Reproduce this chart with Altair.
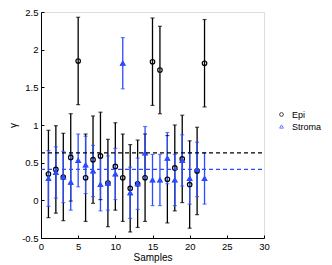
import altair as alt
import pandas as pd

# ---- data ----
samples = list(range(1, 23))
epi_mean = [0.35, 0.41, 0.31, 0.57, 1.85, 0.30, 0.54, 0.59, 0.23, 0.45, 0.30,
            0.16, 0.22, 0.30, 1.84, 1.73, 0.28, 0.43, 0.55, 0.21, 0.39, 1.82]
epi_err = [0.58, 0.58, 0.58, 0.58, 0.58, 0.58, 0.58, 0.58, 0.58, 0.58, 0.58,
           0.58, 0.58, 0.58, 0.58, 0.58, 0.58, 0.57, 0.58, 0.58, 0.58, 0.58]
stroma_mean = [0.29, 0.37, 0.31, 0.24, 0.53, 0.47, 0.39, 0.21, 0.23, 0.35, 1.82,
               0.10, 0.22, 0.63, 0.27, 0.27, 0.56, 0.27, 0.53, 0.29, 0.41, 0.29]
stroma_err = [0.37, 0.34, 0.34, 0.37, 0.35, 0.38, 0.34, 0.35, 0.36, 0.34, 0.34,
              0.34, 0.34, 0.35, 0.34, 0.34, 0.34, 0.34, 0.34, 0.34, 0.36, 0.34]
series_names = ["Epi", "Stroma"]
ref_levels = [0.63, 0.41]
x_ticks = [0, 5, 10, 15, 20, 25, 30]
y_ticks = [-0.5, 0, 0.5, 1, 1.5, 2, 2.5]

BLACK = "#000000"
BLUE = "#2a4bff"
FONT = "Liberation Sans"
W, H = 223, 226

rows = []
for s, m, e in zip(samples, epi_mean, epi_err):
    rows.append({"sample": s, "gamma": m, "err": e, "series": "Epi"})
for s, m, e in zip(samples, stroma_mean, stroma_err):
    rows.append({"sample": s, "gamma": m, "err": e, "series": "Stroma"})
df = pd.DataFrame(rows)
ref = pd.DataFrame({"series": series_names, "gamma": ref_levels})

xs = alt.Scale(domain=[0, 30], nice=False, zero=False)
ys = alt.Scale(domain=[-0.5, 2.5], nice=False, zero=False)
cs = alt.Scale(domain=series_names, range=[BLACK, BLUE])
ss = alt.Scale(domain=series_names, range=["circle", "triangle-up"])

x_axis = alt.Axis(values=x_ticks, ticks=False, grid=False, labelFlush=False,
                  labelPadding=3, title="Samples", titlePadding=2,
                  domainColor=BLACK, labelColor=BLACK, titleColor=BLACK,
                  labelFont=FONT, titleFont=FONT, labelFontSize=9.5,
                  titleFontSize=10, titleFontWeight="normal")
y_axis = alt.Axis(values=y_ticks, ticks=False, grid=False, labelFlush=False,
                  labelExpr="'' + datum.value", labelPadding=3,
                  title="γ", titlePadding=3,
                  domainColor=BLACK, labelColor=BLACK, titleColor=BLACK,
                  labelFont=FONT, titleFont=FONT, labelFontSize=9.5,
                  titleFontSize=10, titleFontWeight="normal")

legend = alt.Legend(title=None, orient="none", legendX=236, legendY=98,
                    symbolSize=14, symbolStrokeWidth=1, labelFont=FONT,
                    labelFontSize=9, labelColor=BLACK, labelOffset=6,
                    rowPadding=2, padding=0, symbolFillColor="transparent",
                    symbolOpacity=0.75)

X = alt.X("sample:Q", scale=xs, axis=x_axis)
color_nl = alt.Color("series:N", scale=cs, legend=None)

base = alt.Chart(df).transform_calculate(
    lo="datum.gamma - datum.err", hi="datum.gamma + datum.err"
)

bars = base.mark_rule(strokeWidth=1.3).encode(
    x=X, y=alt.Y("lo:Q", scale=ys, axis=y_axis), y2="hi:Q", color=color_nl)
cap_lo = base.mark_tick(orient="horizontal", size=4, thickness=1.2).encode(
    x=X, y=alt.Y("lo:Q", scale=ys, axis=y_axis), color=color_nl)
cap_hi = base.mark_tick(orient="horizontal", size=4, thickness=1.2).encode(
    x=X, y=alt.Y("hi:Q", scale=ys, axis=y_axis), color=color_nl)

refs = alt.Chart(ref).mark_rule(strokeDash=[4, 3], strokeWidth=1.2).encode(
    y=alt.Y("gamma:Q", scale=ys, axis=y_axis),
    x=alt.value(0), x2=alt.value(W), color=color_nl)

pts = base.mark_point(filled=False, strokeWidth=1.2, size=20, opacity=1).encode(
    x=X, y=alt.Y("gamma:Q", scale=ys, axis=y_axis),
    color=alt.Color("series:N", scale=cs, legend=legend),
    shape=alt.Shape("series:N", scale=ss, legend=legend))
tri = base.transform_filter("datum.series == 'Stroma'").mark_point(
    filled=True, shape="triangle-up", size=30, color=BLUE, opacity=1).encode(
    x=X, y=alt.Y("gamma:Q", scale=ys, axis=y_axis))

main = alt.layer(bars, cap_lo, cap_hi, pts, tri, refs).resolve_legend(
    color="independent", shape="independent")

tick_x_axis = alt.Axis(orient="top", offset=-H, values=x_ticks, labels=False,
                       domain=False, grid=False, ticks=True, tickSize=3,
                       tickColor=BLACK, tickWidth=1, title=None)
tick_y_axis = alt.Axis(orient="right", offset=-W, values=y_ticks, labels=False,
                       domain=False, grid=False, ticks=True, tickSize=3,
                       tickColor=BLACK, tickWidth=1, title=None)
tick_layer = alt.Chart(ref).mark_point(opacity=0).encode(
    x=alt.X("gamma:Q", scale=xs, axis=tick_x_axis),
    y=alt.Y("gamma:Q", scale=ys, axis=tick_y_axis))

chart = alt.layer(main, tick_layer).resolve_axis(
    x="independent", y="independent"
).properties(
    width=W, height=H,
    autosize=alt.AutoSizeParams(type="none"),
    padding={"left": 33, "top": 4, "right": 60, "bottom": 25},
).configure_view(stroke=None).configure(background="white")

chart.save("out.html", embed_options={"renderer": "svg", "actions": False})
